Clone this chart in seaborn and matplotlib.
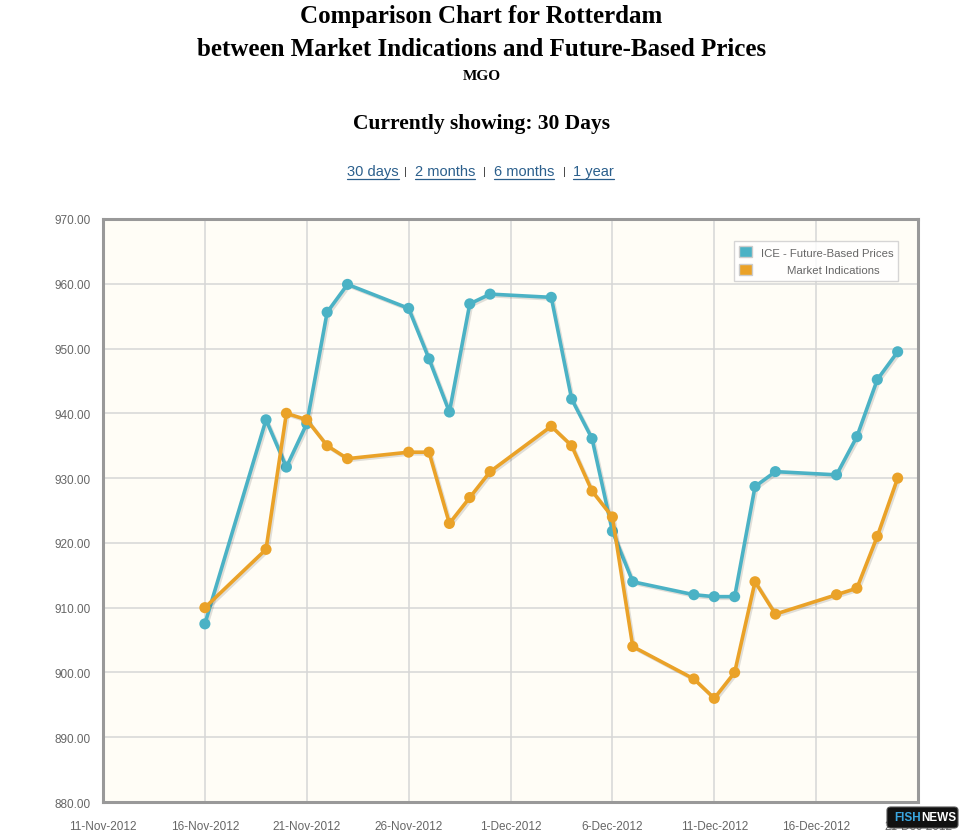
import numpy as np
import pandas as pd
import matplotlib
matplotlib.use('Agg')
import matplotlib.pyplot as plt
import matplotlib.dates as mdates
import matplotlib.patheffects as pe
from matplotlib.patches import Patch, FancyBboxPatch
from matplotlib.lines import Line2D
import seaborn as sns

# data
dates = ['2012-11-16', '2012-11-19', '2012-11-20', '2012-11-21', '2012-11-22',
         '2012-11-23', '2012-11-26', '2012-11-27', '2012-11-28', '2012-11-29',
         '2012-11-30', '2012-12-03', '2012-12-04', '2012-12-05', '2012-12-06',
         '2012-12-07', '2012-12-10', '2012-12-11', '2012-12-12', '2012-12-13',
         '2012-12-14', '2012-12-17', '2012-12-18', '2012-12-19', '2012-12-20']
ice_prices = [907.5, 939.0, 931.7, 938.4, 955.6, 959.9, 956.2, 948.4, 940.2, 956.9,
              958.4, 957.9, 942.2, 936.1, 921.8, 914.0, 912.0, 911.7, 911.7, 928.7,
              931.0, 930.5, 936.4, 945.2, 949.5]
market_prices = [910.0, 919.0, 940.0, 939.0, 935.0, 933.0, 934.0, 934.0, 923.0, 927.0,
                 931.0, 938.0, 935.0, 928.0, 924.0, 904.0, 899.0, 896.0, 900.0, 914.0,
                 909.0, 912.0, 913.0, 921.0, 930.0]
series_names = ['ICE - Future-Based Prices', 'Market Indications']
colors = ['#4bb2c5', '#eaa228']
y_ticks = [880, 890, 900, 910, 920, 930, 940, 950, 960, 970]

df = pd.DataFrame({
    'date': pd.to_datetime(dates * 2),
    'price': ice_prices + market_prices,
    'series': [series_names[0]] * len(dates) + [series_names[1]] * len(dates),
})

sns.set_style('white')
plt.rcParams['font.family'] = ['Liberation Sans', 'DejaVu Sans']

fig = plt.figure(figsize=(9.69, 8.37), dpi=100)
ax = fig.add_axes([0.1063, 0.0406, 0.8411, 0.6966])
ax.set_facecolor('#fffdf6')

sns.lineplot(data=df, x='date', y='price', hue='series', palette=colors,
             marker='o', markersize=8, markeredgewidth=0, linewidth=2.6,
             legend=False, ax=ax, zorder=3)
for ln in ax.get_lines():
    ln.set_path_effects([pe.SimpleLineShadow(offset=(1.2, -1.2), alpha=0.12, shadow_color='black'),
                         pe.Normal()])

ax.set_xlim(pd.Timestamp('2012-11-11'), pd.Timestamp('2012-12-21'))
ax.set_ylim(880, 970)
ax.set_yticks(y_ticks)
ax.yaxis.set_major_formatter(matplotlib.ticker.FormatStrFormatter('%.2f'))
ax.set_xticks(pd.date_range('2012-11-11', '2012-12-21', freq='5D'))
ax.xaxis.set_major_formatter(mdates.DateFormatter('%-d-%b-%Y'))
ax.grid(True, color='#d6d6d6', linewidth=1.1)
ax.tick_params(axis='both', colors='#999999', length=5, width=1.2, direction='out',
               labelcolor='#666666', labelsize=8.5, pad=4)
ax.tick_params(axis='x', pad=8)
ax.set_xlabel('')
ax.set_ylabel('')
for side, sp in ax.spines.items():
    sp.set_visible(True)
    sp.set_color('#999999')
    sp.set_linewidth(2.2)

leg_handles = [Patch(facecolor=c, edgecolor='#cccccc', linewidth=1) for c in colors]
leg = ax.legend(leg_handles, series_names, loc='upper right', bbox_to_anchor=(0.983, 0.972),
                frameon=True, fancybox=False, edgecolor='#cccccc', facecolor='#ffffff',
                fontsize=8.2, labelcolor='#666666', handlelength=1.1, handleheight=1.15,
                handletextpad=0.8, borderpad=0.45, labelspacing=0.55)
leg.get_frame().set_linewidth(1)
for t in leg.get_texts()[1:]:
    t.set_ha('center')
    t.set_position((26, 0))

# header texts
serif = ['Liberation Serif', 'DejaVu Serif']
fig.text(0.497, 1 - 17 / 837, 'Comparison Chart for Rotterdam', ha='center', va='center',
         fontsize=18, fontweight='bold', family=serif, color='black')
fig.text(0.497, 1 - 49 / 837, 'between Market Indications and Future-Based Prices', ha='center',
         va='center', fontsize=18, fontweight='bold', family=serif, color='black')
fig.text(0.497, 1 - 76 / 837, 'MGO', ha='center', va='center', fontsize=11, fontweight='bold',
         family=serif, color='black')
fig.text(0.497, 1 - 124 / 837, 'Currently showing: 30 Days', ha='center', va='center',
         fontsize=15.5, fontweight='bold', family=serif, color='black')

# range links
link_color = '#2b5f8c'
links = [('30 days', 347), ('|', 404), ('2 months', 415), ('|', 483), ('6 months', 494),
         ('|', 563), ('1 year', 573)]
fig.canvas.draw()
renderer = fig.canvas.get_renderer()
for label, px in links:
    is_sep = label == '|'
    t = fig.text(px / 969, 1 - 172 / 837, label, ha='left', va='center',
                 fontsize=8 if is_sep else 10.5, color='#333333' if is_sep else link_color)
    if not is_sep:
        bb = t.get_window_extent(renderer)
        y0 = (bb.y0 - 1) / fig.bbox.height
        fig.add_artist(Line2D([bb.x0 / fig.bbox.width, bb.x1 / fig.bbox.width], [y0, y0],
                              color=link_color, linewidth=0.9))

# logo in the corner
fig.add_artist(FancyBboxPatch((887 / 969, 1 - 829 / 837), 71 / 969, 21 / 837,
                              boxstyle='round,pad=0,rounding_size=0.004',
                              facecolor='#111111', edgecolor='#555555', linewidth=0.8,
                              transform=fig.transFigure, zorder=10))
fig.text(921 / 969, 1 - 818 / 837, 'FISH', ha='right', va='center', fontsize=8.5,
         fontweight='bold', color='#3aa6e0', zorder=11)
fig.text(921 / 969, 1 - 818 / 837, 'NEWS', ha='left', va='center', fontsize=8.5,
         fontweight='bold', color='#ffffff', zorder=11)

fig.savefig('out.png', dpi=100, facecolor='white')
